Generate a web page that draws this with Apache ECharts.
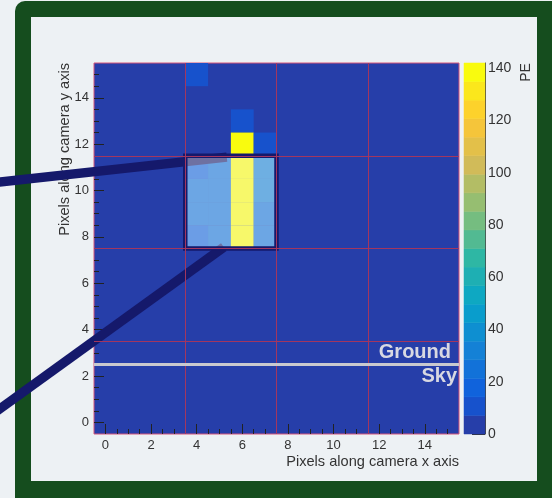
<!DOCTYPE html>
<html>
<head>
<meta charset="utf-8">
<script src="https://cdn.jsdelivr.net/npm/echarts@6/dist/echarts.min.js"></script>
<style>
  html, body { margin: 0; padding: 0; background: #edf1f4; }
  #chart { width: 552px; height: 498px; }
</style>
</head>
<body>
<div id="chart"></div>
<script>
// camera pixels with signal, everything else sits in the lowest PE band
var hitX  = [4, 6, 6, 7, 4, 4, 4, 4, 5, 5, 5, 5, 6, 6, 6, 6, 7, 7, 7, 7];
var hitY  = [15, 13, 12, 12, 8, 9, 10, 11, 8, 9, 10, 11, 8, 9, 10, 11, 8, 9, 10, 11];
var hitPE = [10, 11, 140, 10, 17, 22, 22, 17, 22, 22, 22, 22, 140, 140, 140, 140, 22, 22, 30, 30];

var axisLabels = [0, 2, 4, 6, 8, 10, 12, 14];
var minorTicks = [0.5, 1, 1.5, 2.5, 3, 3.5, 4.5, 5, 5.5, 6.5, 7, 7.5, 8.5, 9, 9.5,
                  10.5, 11, 11.5, 12.5, 13, 13.5, 14.5, 15];
var peLabels = [0, 20, 40, 60, 80, 100, 120, 140];
var peMax = 142;

var sectorLines = [3.5, 7.5, 11.5];
var horizonY = 2.5;
var zoomBox = [[3.5, 7.5, 7.5, 11.5]];
var callouts = [[-5, 10.33, 5.32, 11.44], [-5, 0.32, 5.19, 7.56]];

// ROOT kBird, 20 contours
var palette = ['#263ea9', '#1752cc', '#1063dc', '#1272d9', '#1481d6', '#0e8fd1', '#099dcc',
  '#0ea8c2', '#1eafb3', '#2eb7a4', '#52ba92', '#75bd80', '#96be71', '#b3bd65', '#d1bb59',
  '#e3c049', '#f5c53a', '#fdd22b', '#fbe71c', '#f9fb0e'];

var FONT = '"Liberation Sans", Arial, sans-serif';
var NAVY = '#15196b';
var step = peMax / palette.length;

var hits = hitX.map(function (x, i) { return [x, hitY[i], hitPE[i]]; });
var pieces = palette.map(function (c, i) {
  var p = { gte: i * step, color: c };
  if (i < palette.length - 1) p.lt = (i + 1) * step;
  return p;
});
var bands = palette.map(function (c, i) { return [i * step, (i + 1) * step, i]; });

var chart = echarts.init(document.getElementById('chart'));

function gridLine(axis, v) {
  var d = {};
  d[axis] = v;
  return d;
}

var markData = [];
sectorLines.forEach(function (v) {
  markData.push(gridLine('xAxis', v));
  markData.push(gridLine('yAxis', v));
});
var horizonLabel = {
  show: true, color: '#d8d8e2', fontWeight: 'bold', fontSize: 20, fontFamily: FONT
};
markData.push({
  yAxis: horizonY,
  lineStyle: { color: '#c9c9cf', width: 3 },
  label: Object.assign({ formatter: 'Ground', position: 'insideEndTop', distance: [8, 2] }, horizonLabel)
});
markData.push({
  yAxis: horizonY,
  lineStyle: { color: '#c9c9cf', width: 3 },
  label: Object.assign({ formatter: 'Sky', position: 'insideEndBottom', distance: [2, 2] }, horizonLabel)
});

var noLine = { show: false, onZero: false };

var option = {
  animation: false,
  grid: [
    { left: 94, top: 63, width: 365, height: 371, show: true,
      backgroundColor: palette[0], borderColor: '#d4557a', borderWidth: 1 },
    { left: 464, top: 63, width: 21, height: 371 }
  ],
  visualMap: {
    type: 'piecewise', show: false, seriesIndex: 0, dimension: 2, pieces: pieces
  },
  xAxis: [
    { gridIndex: 0, type: 'value', min: -0.5, max: 15.5, position: 'bottom',
      axisLine: noLine, splitLine: { show: false },
      axisTick: { inside: true, length: 10, customValues: axisLabels, lineStyle: { color: '#222' } },
      axisLabel: { customValues: axisLabels, color: '#333', fontSize: 13, fontFamily: FONT, margin: 5 } },
    { gridIndex: 0, type: 'value', min: -0.5, max: 15.5, position: 'bottom', offset: 0,
      axisLine: noLine, splitLine: { show: false }, axisLabel: { show: false },
      axisTick: { inside: true, length: 5, customValues: minorTicks, lineStyle: { color: '#222' } } },
    { gridIndex: 1, type: 'value', min: 0, max: 1, show: false }
  ],
  yAxis: [
    { gridIndex: 0, type: 'value', min: -0.5, max: 15.5, position: 'left',
      axisLine: noLine, splitLine: { show: false },
      axisTick: { inside: true, length: 10, customValues: axisLabels, lineStyle: { color: '#222' } },
      axisLabel: { customValues: axisLabels, color: '#333', fontSize: 13, fontFamily: FONT, margin: 5 } },
    { gridIndex: 0, type: 'value', min: -0.5, max: 15.5, position: 'left', offset: 0,
      axisLine: noLine, splitLine: { show: false }, axisLabel: { show: false },
      axisTick: { inside: true, length: 5, customValues: minorTicks, lineStyle: { color: '#222' } } },
    { gridIndex: 1, type: 'value', min: 0, max: peMax, position: 'right',
      axisLine: { show: true, onZero: false, lineStyle: { color: '#444' } }, splitLine: { show: false },
      axisTick: { inside: true, length: 13, customValues: peLabels, lineStyle: { color: '#333' } },
      axisLabel: { customValues: peLabels, color: '#333', fontSize: 14, fontFamily: FONT, margin: 3 } }
  ],
  series: [
    {
      type: 'custom',
      xAxisIndex: 0, yAxisIndex: 0,
      data: hits,
      encode: { x: 0, y: 1 },
      renderItem: function (params, api) {
        var p = api.coord([api.value(0) - 0.5, api.value(1) + 0.5]);
        var s = api.size([1, 1]);
        return {
          type: 'rect',
          shape: { x: p[0], y: p[1], width: s[0], height: s[1] },
          style: { fill: api.visual('color') }
        };
      },
      markLine: {
        silent: true,
        symbol: ['none', 'none'],
        lineStyle: { color: '#a3365f', width: 1, type: 'solid' },
        label: { show: false },
        data: markData
      }
    },
    {
      type: 'custom',
      xAxisIndex: 0, yAxisIndex: 0,
      clip: false, z: 3,
      data: callouts,
      encode: { x: [0, 2], y: [1, 3] },
      renderItem: function (params, api) {
        var a = api.coord([api.value(0), api.value(1)]);
        var b = api.coord([api.value(2), api.value(3)]);
        return {
          type: 'line',
          shape: { x1: a[0], y1: a[1], x2: b[0], y2: b[1] },
          style: { stroke: NAVY, lineWidth: 9.5, lineCap: 'butt' }
        };
      }
    },
    {
      type: 'custom',
      xAxisIndex: 0, yAxisIndex: 0,
      z: 4,
      data: zoomBox,
      encode: { x: [0, 2], y: [1, 3] },
      renderItem: function (params, api) {
        var a = api.coord([api.value(0), api.value(3)]);
        var b = api.coord([api.value(2), api.value(1)]);
        return {
          type: 'rect',
          shape: { x: a[0], y: a[1], width: b[0] - a[0], height: b[1] - a[1] },
          style: { fill: 'rgba(246,246,246,0.4)', stroke: NAVY, lineWidth: 4.5 }
        };
      }
    },
    {
      type: 'custom',
      xAxisIndex: 2, yAxisIndex: 2,
      data: bands,
      encode: { y: [0, 1] },
      renderItem: function (params, api) {
        var a = api.coord([0, api.value(1)]);
        var b = api.coord([1, api.value(0)]);
        var c = palette[api.value(2)];
        return {
          type: 'rect',
          shape: { x: a[0], y: a[1], width: b[0] - a[0], height: b[1] - a[1] },
          style: { fill: c, stroke: c, lineWidth: 0.5 }
        };
      }
    }
  ],
  graphic: [
    { type: 'rect', z: -10, shape: { x: 15, y: 1, width: 560, height: 530, r: 10 },
      style: { fill: '#154d1e' } },
    { type: 'rect', z: -9, shape: { x: 31, y: 17, width: 506, height: 464 },
      style: { fill: '#edf1f4' } },
    { type: 'text', x: 459, y: 462,
      style: { text: 'Pixels along camera x axis', align: 'right', verticalAlign: 'middle',
               textAlign: 'right', textVerticalAlign: 'middle',
               font: '14.6px ' + FONT, fill: '#333' } },
    { type: 'text', x: 65, y: 63, rotation: Math.PI / 2,
      style: { text: 'Pixels along camera y axis', align: 'right', verticalAlign: 'middle',
               textAlign: 'right', textVerticalAlign: 'middle',
               font: '14.6px ' + FONT, fill: '#333' } },
    { type: 'text', x: 526, y: 72.5, rotation: Math.PI / 2,
      style: { text: 'PE', align: 'center', verticalAlign: 'middle',
               textAlign: 'center', textVerticalAlign: 'middle',
               font: '14px ' + FONT, fill: '#333' } }
  ]
};

chart.setOption(option);
</script>
</body>
</html>
